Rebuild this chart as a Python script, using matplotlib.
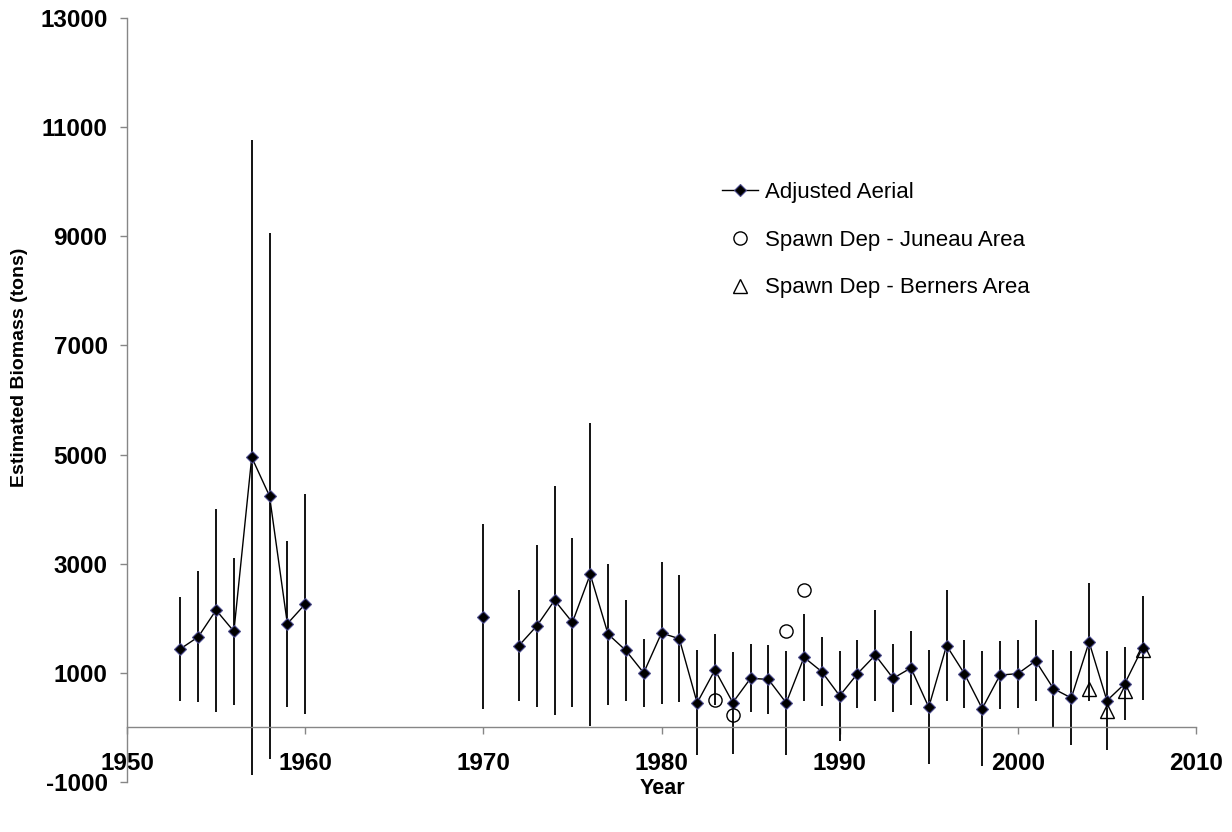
import numpy as np
import pandas as pd
import matplotlib
matplotlib.use("Agg")
import matplotlib.pyplot as plt

# Adjusted aerial survey estimates (tons) with error half-widths
aerial_years = [1953, 1954, 1955, 1956, 1957, 1958, 1959, 1960, 1970,
                1972, 1973, 1974, 1975, 1976, 1977, 1978, 1979, 1980, 1981,
                1982, 1983, 1984, 1985, 1986, 1987, 1988, 1989, 1990, 1991,
                1992, 1993, 1994, 1995, 1996, 1997, 1998, 1999, 2000, 2001,
                2002, 2003, 2004, 2005, 2006, 2007]
aerial_biomass = [1440, 1660, 2150, 1760, 4950, 4240, 1900, 2260, 2030,
                  1500, 1860, 2330, 1925, 2805, 1710, 1410, 1000, 1730, 1625,
                  450, 1055, 455, 900, 880, 450, 1285, 1020, 580, 985,
                  1325, 900, 1090, 370, 1500, 985, 345, 960, 985, 1220,
                  710, 540, 1565, 490, 800, 1460]
aerial_err = [955, 1200, 1860, 1340, 5820, 4820, 1520, 2020, 1700,
              1020, 1490, 2100, 1545, 2775, 1290, 925, 625, 1300, 1160,
              960, 650, 935, 625, 625, 950, 800, 630, 820, 620,
              835, 625, 670, 1040, 1020, 620, 1060, 620, 620, 740,
              710, 860, 1085, 905, 670, 950]

juneau_years = [1983, 1984, 1987, 1988]
juneau_biomass = [500, 225, 1765, 2510]

berners_years = [2004, 2005, 2006, 2007]
berners_biomass = [710, 305, 675, 1420]

x_ticks = list(range(1950, 2011, 10))
y_ticks = list(range(-1000, 13001, 2000))

# reindex to every year so the line breaks where no survey was flown
aerial = pd.Series(aerial_biomass, index=aerial_years)
aerial_line = aerial.reindex(range(min(aerial_years), max(aerial_years) + 1))

plt.rcParams["font.family"] = ["Liberation Sans", "DejaVu Sans"]
plt.rcParams["axes.unicode_minus"] = False

fig = plt.figure(figsize=(12.32, 8.32), dpi=100)
ax = fig.add_axes([127 / 1232, 1 - 782 / 832, (1196 - 127) / 1232, (782 - 18) / 832])

ax.errorbar(aerial_years, aerial_biomass, yerr=aerial_err, fmt="none",
            ecolor="black", elinewidth=1.3, capsize=0, zorder=2)
ax.plot(aerial_line.index, aerial_line.values, color="black", linewidth=1.0,
        marker="D", markersize=6, markerfacecolor="black",
        markeredgecolor="#4a4a8c", markeredgewidth=0.8, zorder=3,
        label="Adjusted Aerial")
ax.plot(juneau_years, juneau_biomass, linestyle="none", marker="o",
        markersize=9.5, markerfacecolor="none", markeredgecolor="black",
        markeredgewidth=1.0, zorder=4, label="Spawn Dep - Juneau Area")
ax.plot(berners_years, berners_biomass, linestyle="none", marker="^",
        markersize=10, markerfacecolor="none", markeredgecolor="black",
        markeredgewidth=1.0, zorder=4, label="Spawn Dep - Berners Area")

ax.set_xlim(1950, 2010)
ax.set_ylim(-1000, 13000)
ax.set_xticks(x_ticks)
ax.set_yticks(y_ticks)

for side in ["top", "right"]:
    ax.spines[side].set_visible(False)
ax.spines["bottom"].set_position(("data", 0))
for side in ["left", "bottom"]:
    ax.spines[side].set_color("#868686")
    ax.spines[side].set_linewidth(1.0)

ax.tick_params(axis="both", direction="out", length=5, width=1.0,
               color="#868686", labelsize=17.5)
ax.tick_params(axis="x", pad=13)
ax.tick_params(axis="y", pad=9)
for lab in ax.get_xticklabels() + ax.get_yticklabels():
    lab.set_fontweight("bold")

fig.text(662 / 1232, 1 - 789 / 832, "Year", ha="center", va="center",
         fontsize=15.5, fontweight="bold")
fig.text(20 / 1232, 1 - 367 / 832, "Estimated Biomass (tons)", rotation=90,
         ha="center", va="center", fontsize=14, fontweight="bold")

ax.legend(loc="upper left", bbox_to_anchor=(722 / 1232, 1 - 182 / 832),
          bbox_transform=fig.transFigure, frameon=False, fontsize=16,
          numpoints=1, handlelength=1.6, handletextpad=0.35,
          labelspacing=1.2, borderpad=0, borderaxespad=0)

fig.savefig("out.png", dpi=100)
